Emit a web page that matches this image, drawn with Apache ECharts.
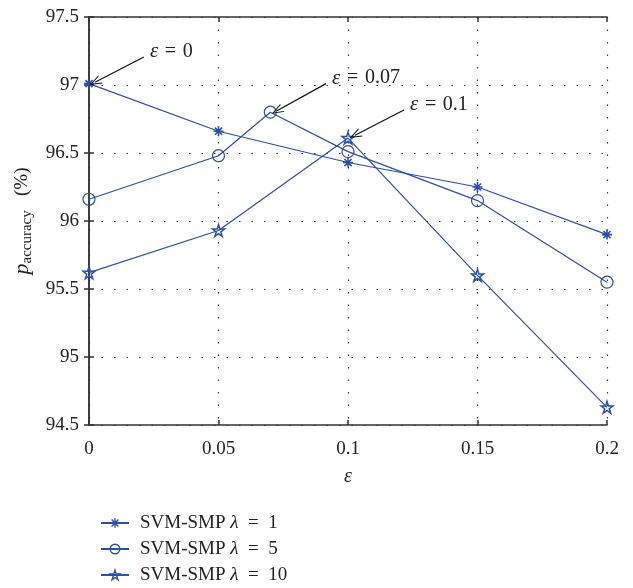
<!DOCTYPE html>
<html><head><meta charset="utf-8">
<script src="https://cdn.jsdelivr.net/npm/echarts@6/dist/echarts.min.js"></script>
<style>html,body{margin:0;padding:0;background:#fff}#c{width:633px;height:588px}</style>
</head><body><div id="c"></div>
<script>
const xTicks = [0, 0.05, 0.1, 0.15, 0.2];
const yTicks = [94.5, 95, 95.5, 96, 96.5, 97, 97.5];
const seriesNames = ['SVM-SMP λ = 1', 'SVM-SMP λ = 5', 'SVM-SMP λ = 10'];
const x1 = [0, 0.05, 0.1, 0.15, 0.2];
const y1 = [97.01, 96.66, 96.43, 96.25, 95.90];
const x2 = [0, 0.05, 0.07, 0.1, 0.15, 0.2];
const y2 = [96.16, 96.48, 96.80, 96.51, 96.15, 95.55];
const x3 = [0, 0.05, 0.1, 0.15, 0.2];
const y3 = [95.62, 95.93, 96.61, 95.60, 94.63];
const annoText = ['0', '0.07', '0.1'];
const annoFrom = [[0.0212, 97.206], [0.0915, 97.01], [0.1216, 96.816]];
const annoTo = [[0.0023, 97.02], [0.0726, 96.81], [0.1027, 96.63]];

const BLUE = '#2d4fa5';
const FONT = 'Liberation Serif';
const ASTER = 'path://M0,-100 L0,100 M-100,0 L100,0 M-71,-71 L71,71 M-71,71 L71,-71';
const STAR = 'path://M0,-100 L22,-31 L95,-31 L36,12 L59,81 L0,38 L-59,81 L-36,12 L-95,-31 L-22,-31 Z';
const pairs = (xs, ys) => xs.map((v, i) => [v, ys[i]]);

const chart = echarts.init(document.getElementById('c'));
const axisCommon = {
  type: 'value', min: 0, max: 0.2, interval: 0.05,
  axisLine: {show: true, lineStyle: {color: '#333', width: 1.5}},
  axisTick: {show: true, inside: true, length: 5, lineStyle: {color: '#333', width: 1.5}},
};
const mkSeries = (name, data, symbol, size, bw, extra) => Object.assign({
  name, type: 'line', data, symbol, symbolSize: size, showSymbol: true,
  lineStyle: {color: BLUE, width: 1.2},
  itemStyle: {color: 'rgba(0,0,0,0)', borderColor: BLUE, borderWidth: bw},
  emphasis: {disabled: true}, z: 3
}, extra || {});

const arrowHead = 'path://M0,0 L-40,100 L-30,100 L0,22 L30,100 L40,100 Z';

chart.setOption({
  animation: false,
  textStyle: {fontFamily: FONT},
  grid: {left: 89, top: 17, right: 26, bottom: 163, show: false},
  xAxis: [
    Object.assign({}, axisCommon, {
      position: 'bottom',
      name: 'ε', nameLocation: 'middle', nameGap: 42,
      nameTextStyle: {fontFamily: FONT, fontSize: 20, fontStyle: 'italic', color: '#222'},
      axisLabel: {fontFamily: FONT, fontSize: 19, color: '#222', margin: 15,
        formatter: v => String(+v.toFixed(2))},
      splitLine: {show: true, lineStyle: {color: '#333', type: [1.5, 11], width: 1.2}}
    }),
    Object.assign({}, axisCommon, {
      position: 'top', axisLabel: {show: false}, splitLine: {show: false}
    })
  ],
  yAxis: [
    {
      type: 'value', min: 94.5, max: 97.5, interval: 0.5, position: 'left',
      axisLine: {show: true, lineStyle: {color: '#333', width: 1.5}},
      axisTick: {show: true, inside: true, length: 5, lineStyle: {color: '#333', width: 1.5}},
      axisLabel: {fontFamily: FONT, fontSize: 19, color: '#222', margin: 10},
      splitLine: {show: true, lineStyle: {color: '#333', type: [1.5, 11], width: 1.2}},
      name: '{p|p}{s|accuracy}{g|   (%)}', nameLocation: 'middle', nameGap: 50, nameRotate: 90,
      nameTextStyle: {
        rich: {
          p: {fontFamily: FONT, fontSize: 22, fontStyle: 'italic', color: '#222', lineHeight: 26, verticalAlign: 'middle'},
          s: {fontFamily: FONT, fontSize: 15, color: '#222', lineHeight: 26, verticalAlign: 'bottom', padding: [8, 0, 0, 0]},
          g: {fontFamily: FONT, fontSize: 19, color: '#222', lineHeight: 26, verticalAlign: 'middle'}
        }
      }
    },
    {
      type: 'value', min: 94.5, max: 97.5, interval: 0.5, position: 'right',
      axisLine: {show: true, lineStyle: {color: '#333', width: 1.5}},
      axisTick: {show: true, inside: true, length: 5, lineStyle: {color: '#333', width: 1.5}},
      axisLabel: {show: false}, splitLine: {show: false}
    }
  ],
  legend: {
    orient: 'vertical', left: 100, top: 513, padding: 0, height: 75,
    itemWidth: 28, itemHeight: 12, itemGap: 6,
    data: seriesNames.map(n => ({name: n, itemStyle: {color: 'rgba(0,0,0,0)', borderColor: BLUE, borderWidth: 1.4}})),
    textStyle: {fontFamily: FONT, fontSize: 19, lineHeight: 20, color: '#222', padding: [0, 0, 0, 6],
      rich: {i: {fontFamily: FONT, fontSize: 19, lineHeight: 20, fontStyle: 'italic', color: '#222'}}},
    formatter: n => n.replace('λ', '{i|λ}').replace(' = ', '\u2002=\u2002')
  },
  series: [
    mkSeries(seriesNames[0], pairs(x1, y1), ASTER, 10, 1.6, {
      markLine: {
        silent: true, symbol: ['none', arrowHead], symbolSize: [9, 12],
        lineStyle: {color: '#111', width: 1.2, type: 'solid'},
        label: {show: false},
        data: annoFrom.map((f, i) => [{coord: f}, {coord: annoTo[i]}])
      }
    }),
    mkSeries(seriesNames[1], pairs(x2, y2), 'circle', 12, 1.2),
    mkSeries(seriesNames[2], pairs(x3, y3), STAR, 12, 1.5)
  ]
});

const g = [];
annoText.forEach((t, i) => {
  const p = chart.convertToPixel({xAxisIndex: 0, yAxisIndex: 0}, annoFrom[i]);
  g.push({
    type: 'text', left: p[0] + 6, top: p[1] - 16,
    style: {
      text: '{i|ε}\u2004=\u2004' + t, fontFamily: FONT, fontSize: 20, fill: '#222',
      rich: {i: {fontFamily: FONT, fontSize: 21, fontStyle: 'italic', fill: '#222'}}
    }
  });
});
chart.setOption({graphic: g});
</script></body></html>
